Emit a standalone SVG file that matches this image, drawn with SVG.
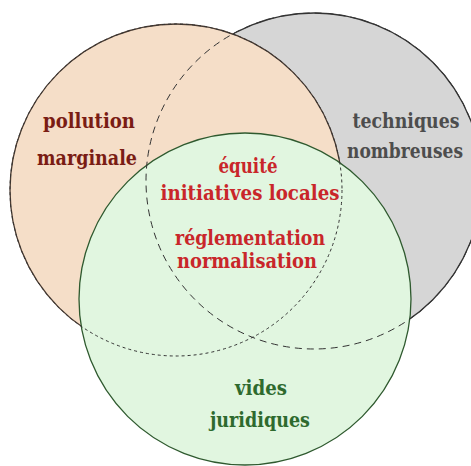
<svg xmlns="http://www.w3.org/2000/svg" width="471" height="466" viewBox="0 0 471 466">
<style>
.lbl{font-family:"DejaVu Serif","Liberation Serif",serif;font-weight:bold;font-size:21px;text-anchor:middle}
.red{fill:#c9262a}
.hid{fill:none;stroke:#333;stroke-width:1}
</style>
<rect width="471" height="466" fill="#ffffff"/>
<g id="techniques">
<circle cx="314" cy="181" r="168" fill="#d6d6d6" stroke="#333" stroke-width="1.3"/>
</g>
<g id="pollution">
<circle cx="176" cy="190" r="166" fill="#f5dec8" stroke="#4a3a30" stroke-width="1.3"/>
</g>
<g id="vides">
<circle cx="245" cy="299" r="166" fill="#e1f6e0" stroke="#2f5a2f" stroke-width="1.3"/>
</g>
<g id="hidden-outlines">
<circle class="hid" cx="314" cy="181" r="168" stroke-dasharray="7 5"/>
<circle class="hid" cx="176" cy="190" r="166" stroke-dasharray="3 3"/>
</g>
<g id="labels">
<text class="lbl" x="89" y="128" fill="#7a1c14" textLength="92" lengthAdjust="spacingAndGlyphs">pollution</text>
<text class="lbl" x="87" y="165" fill="#7a1c14" textLength="100" lengthAdjust="spacingAndGlyphs">marginale</text>
<text class="lbl" x="406" y="128" fill="#4d4d4d" textLength="107" lengthAdjust="spacingAndGlyphs">techniques</text>
<text class="lbl" x="405" y="158" fill="#4d4d4d" textLength="116" lengthAdjust="spacingAndGlyphs">nombreuses</text>
<text class="lbl red" x="248" y="173" textLength="59" lengthAdjust="spacingAndGlyphs">équité</text>
<text class="lbl red" x="250" y="200" textLength="179" lengthAdjust="spacingAndGlyphs">initiatives locales</text>
<text class="lbl red" x="250" y="245" textLength="150" lengthAdjust="spacingAndGlyphs">réglementation</text>
<text class="lbl red" x="247" y="268" textLength="140" lengthAdjust="spacingAndGlyphs">normalisation</text>
<text class="lbl" x="261" y="395" fill="#2e6a2e" textLength="52" lengthAdjust="spacingAndGlyphs">vides</text>
<text class="lbl" x="260" y="427" fill="#2e6a2e" textLength="100" lengthAdjust="spacingAndGlyphs">juridiques</text>
</g>
<g id="connectors"></g>
</svg>
